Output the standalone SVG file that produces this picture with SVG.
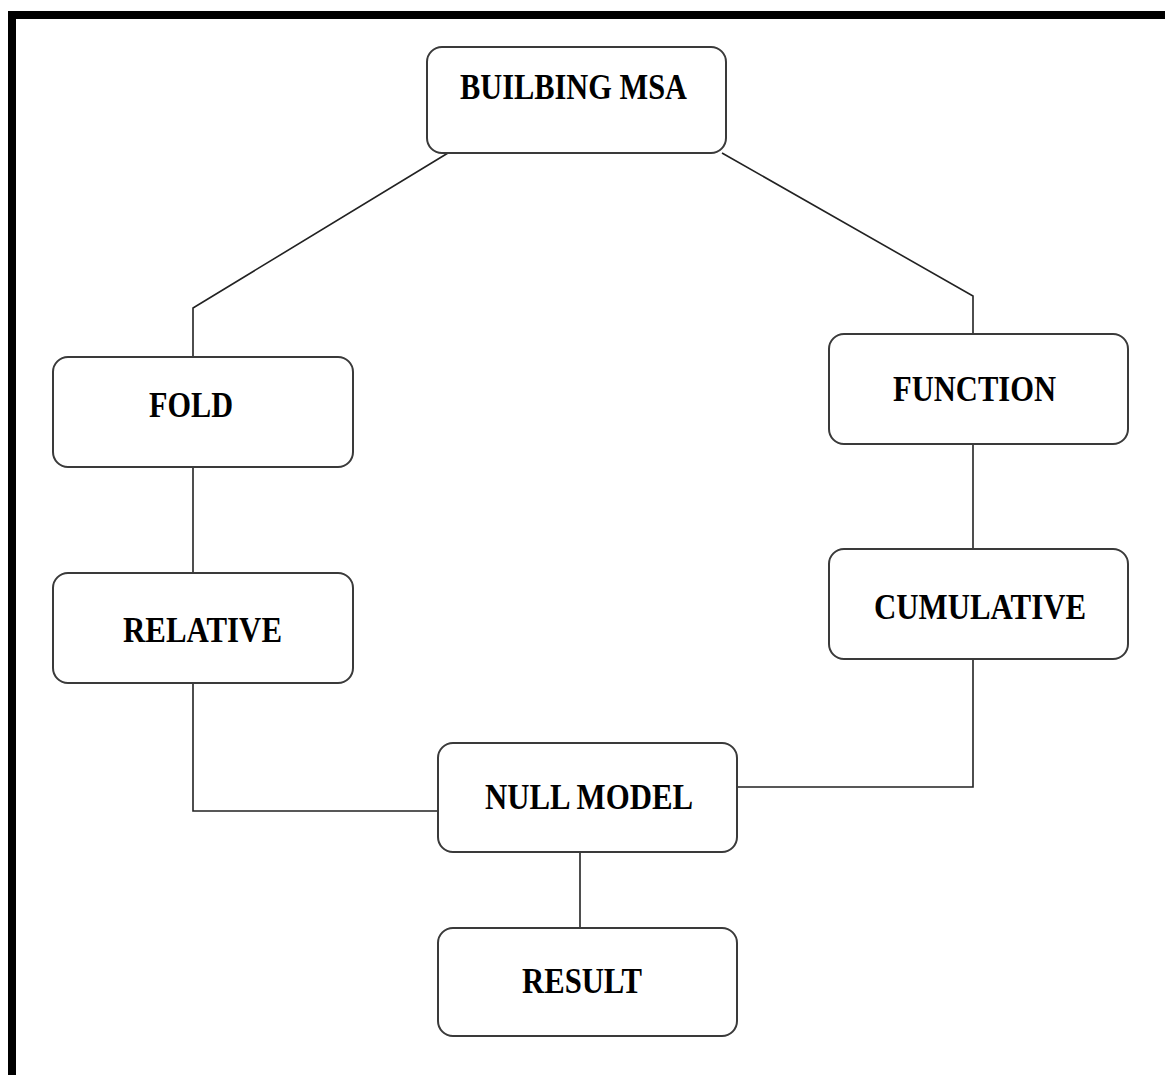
<svg xmlns="http://www.w3.org/2000/svg" width="1165" height="1075" viewBox="0 0 1165 1075">
<style>
.box{fill:#fff;stroke:#3a3a3a;stroke-width:2}
.lbl{font-family:"Liberation Serif","Times New Roman",serif;font-weight:bold;font-size:36px;fill:#000}
.con{fill:none;stroke:#222;stroke-width:1.6}
</style>
<rect x="0" y="0" width="1165" height="1075" fill="#fff"/>
<g id="frame" fill="#000">
<rect x="8" y="11" width="1157" height="8"/>
<rect x="8" y="11" width="8" height="1064"/>
</g>
<g id="connectors">
<polyline class="con" points="448,153 193,308 193,357"/>
<polyline class="con" points="722,153 973,296 973,334"/>
<line class="con" x1="193" y1="467" x2="193" y2="573"/>
<line class="con" x1="973" y1="444" x2="973" y2="549"/>
<polyline class="con" points="193,683 193,811 438,811"/>
<polyline class="con" points="973,659 973,787 737,787"/>
<line class="con" x1="580" y1="852" x2="580" y2="928"/>
</g>
<g id="n-msa"><rect class="box" x="427" y="47" width="299" height="106" rx="15"/><text class="lbl" x="460" y="99" textLength="227" lengthAdjust="spacingAndGlyphs">BUILBING MSA</text></g>
<g id="n-fold"><rect class="box" x="53" y="357" width="300" height="110" rx="15"/><text class="lbl" x="149" y="417" textLength="84" lengthAdjust="spacingAndGlyphs">FOLD</text></g>
<g id="n-function"><rect class="box" x="829" y="334" width="299" height="110" rx="15"/><text class="lbl" x="893" y="401" textLength="163" lengthAdjust="spacingAndGlyphs">FUNCTION</text></g>
<g id="n-relative"><rect class="box" x="53" y="573" width="300" height="110" rx="15"/><text class="lbl" x="123" y="642" textLength="159" lengthAdjust="spacingAndGlyphs">RELATIVE</text></g>
<g id="n-cumulative"><rect class="box" x="829" y="549" width="299" height="110" rx="15"/><text class="lbl" x="874" y="619" textLength="212" lengthAdjust="spacingAndGlyphs">CUMULATIVE</text></g>
<g id="n-null"><rect class="box" x="438" y="743" width="299" height="109" rx="15"/><text class="lbl" x="485" y="809" textLength="208" lengthAdjust="spacingAndGlyphs">NULL MODEL</text></g>
<g id="n-result"><rect class="box" x="438" y="928" width="299" height="108" rx="15"/><text class="lbl" x="522" y="993" textLength="120" lengthAdjust="spacingAndGlyphs">RESULT</text></g>
</svg>
